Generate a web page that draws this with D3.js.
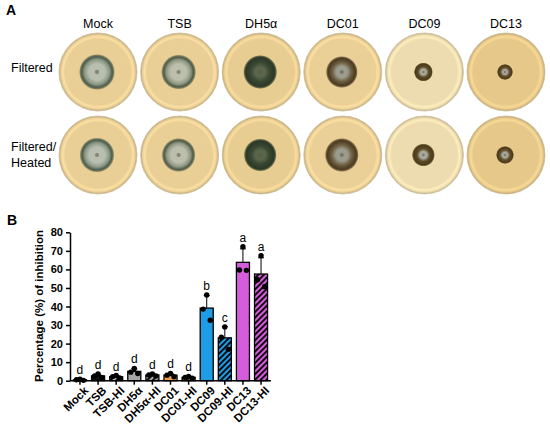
<!DOCTYPE html>
<html>
<head>
<meta charset="utf-8">
<script src="https://cdn.jsdelivr.net/npm/d3@7"></script>
<style>
  body { margin: 0; background: #fff; }
  svg { font-family: "Liberation Sans", Arial, sans-serif; }
  .axis path, .axis line { stroke: #000; stroke-width: 1.5; }
  .axis text { font-weight: bold; fill: #000; }
</style>
</head>
<body>
<svg id="fig" width="550" height="428"></svg>
<script>
// ---- panel A: plates ----
const strains = ["Mock", "TSB", "DH5α", "DC01", "DC09", "DC13"]
const treatments = ["Filtered", "Filtered/Heated"]
// colony radius (px), row 1 then row 2
const colonyFiltered = [18, 17.5, 17, 16, 9.5, 8]
const colonyHeated = [17.5, 17, 16.5, 17, 11.5, 9]

// ---- panel B: inhibition ----
const categories = ["Mock", "TSB", "TSB-HI", "DH5α", "DH5α-HI", "DC01", "DC01-HI", "DC09", "DC09-HI", "DC13", "DC13-HI"]
const rep1 = [0.8, 3.6, 2.8, 6.6, 3.6, 3.9, 2.3, 46.2, 29.0, 72.2, 67.4]
const rep2 = [0.5, 2.5, 2.1, 4.6, 3.1, 3.0, 1.8, 38.6, 23.4, 59.7, 54.4]
const rep3 = [0.2, 1.7, 1.5, 3.9, 2.6, 2.1, 1.4, 32.6, 16.9, 59.5, 50.7]
const letters = ["d", "d", "d", "d", "d", "d", "d", "b", "c", "a", "a"]
const yTicks = [0, 10, 20, 30, 40, 50, 60, 70, 80]

// styling
const barColor = {Mock: "#111", TSB: "#111", DH5α: "#a6a6a6", DC01: "#f0a050", DC09: "#1e9ce6", DC13: "#d55ddc"}
const agarColor = {Mock: "#e9cf96", TSB: "#e9cf96", DH5α: "#e8cd92", DC01: "#eacf96", DC09: "#ecdcaf", DC13: "#e6c98a"}
// colony: [centre, mid, ring], fraction of radius that stays centre-coloured
const colonyLook = {
    Mock: [["#b9bfb0", "#8a9684", "#4d5c4a"], 0.45],
    TSB: [["#bcbfac", "#8f9782", "#4f5b47"], 0.45],
    DH5α: [["#59664a", "#3a4832", "#2a3826"], 0.3],
    DC01: [["#9c9c8e", "#6e5f40", "#4a3a20"], 0.35],
    DC09: [["#a9ab9f", "#5e4c27", "#4a3a1a"], 0.3],
    DC13: [["#a8a89c", "#644f2a", "#4c391b"], 0.3]
}

const svg = d3.select("#fig")
const defs = svg.append("defs")

svg.append("text").attr("x", 6).attr("y", 15)
    .attr("font-size", 14).attr("font-weight", "bold").text("A")

const xPlate = d3.scalePoint().domain(strains).range([98, 506])
const yPlate = d3.scalePoint().domain(treatments).range([72, 155])

svg.selectAll(".colLabel")
    .data(strains)
    .join("text")
    .attr("x", d => xPlate(d))
    .attr("y", 28)
    .attr("text-anchor", "middle")
    .attr("font-size", 12.5)
    .text(d => d)

svg.append("text").attr("x", 11).attr("y", 72).attr("font-size", 12.5).text("Filtered")
const rl = svg.append("text").attr("x", 11).attr("y", 151).attr("font-size", 12.5)
rl.append("tspan").attr("x", 11).text("Filtered/")
rl.append("tspan").attr("x", 11).attr("dy", 16).text("Heated")

// gradients
strains.forEach((s, i) => {
    const base = d3.color(agarColor[s])
    const ag = defs.append("radialGradient").attr("id", `agar${i}`)
    ag.append("stop").attr("offset", "0%").attr("stop-color", base)
    ag.append("stop").attr("offset", "84%").attr("stop-color", base)
    ag.append("stop").attr("offset", "90%").attr("stop-color", base.brighter(0.22))
    ag.append("stop").attr("offset", "95%").attr("stop-color", base)
    ag.append("stop").attr("offset", "100%").attr("stop-color", base.darker(0.6))

    const cg = defs.append("radialGradient").attr("id", `col${i}`)
    const [c, inner] = colonyLook[s]
    cg.append("stop").attr("offset", "0%").attr("stop-color", c[0])
    cg.append("stop").attr("offset", `${inner * 100}%`).attr("stop-color", c[0])
    cg.append("stop").attr("offset", `${(inner + 0.25) * 100}%`).attr("stop-color", c[1])
    cg.append("stop").attr("offset", "85%").attr("stop-color", c[2])
    cg.append("stop").attr("offset", "93%").attr("stop-color", c[2]).attr("stop-opacity", 0.7)
    cg.append("stop").attr("offset", "100%").attr("stop-color", c[2]).attr("stop-opacity", 0)
})

const plates = []
strains.forEach((s, i) => {
    plates.push({strain: s, i: i, row: treatments[0], r: colonyFiltered[i]})
    plates.push({strain: s, i: i, row: treatments[1], r: colonyHeated[i]})
})

const plateG = svg.selectAll(".plate")
    .data(plates)
    .join("g")
    .attr("transform", d => `translate(${xPlate(d.strain)},${yPlate(d.row)})`)

plateG.append("circle")
    .attr("r", 39)
    .attr("fill", d => `url(#agar${d.i})`)
    .attr("stroke", "#cbbd98")
    .attr("stroke-width", 0.8)

plateG.append("circle")
    .attr("r", d => d.r)
    .attr("cx", -1)
    .attr("fill", d => `url(#col${d.i})`)

plateG.append("circle")
    .attr("r", d => Math.max(1.2, d.r * 0.12))
    .attr("cx", -1)
    .attr("fill", "#5d5544")
    .attr("opacity", 0.55)

// ---- panel B ----
svg.append("text").attr("x", 7).attr("y", 225)
    .attr("font-size", 14).attr("font-weight", "bold").text("B")

const y = d3.scaleLinear().domain([0, 80]).range([380.7, 232.3])
const x = d3.scaleBand().domain(categories).range([70, 271])
    .paddingInner(0.28).paddingOuter(0.19)

const baseOf = c => c.replace("-HI", "")

// hatch patterns for heat-inactivated bars
Object.keys(barColor).forEach(k => {
    const p = defs.append("pattern")
        .attr("id", `hatch_${k}`)
        .attr("patternUnits", "userSpaceOnUse")
        .attr("width", 4).attr("height", 4)
        .attr("patternTransform", "rotate(45)")
    p.append("rect").attr("width", 4).attr("height", 4).attr("fill", barColor[k])
    p.append("rect").attr("width", 1.8).attr("height", 4)
        .attr("fill", k === "TSB" ? "#fff" : "#000")
})

const rows = categories.map((c, i) => {
    const v = [rep1[i], rep2[i], rep3[i]]
    return {cat: c, vals: v, mean: d3.mean(v), sd: d3.deviation(v), letter: letters[i]}
})

const barG = svg.append("g")

barG.selectAll(".bar")
    .data(rows)
    .join("rect")
    .attr("x", d => x(d.cat))
    .attr("width", x.bandwidth())
    .attr("y", d => y(d.mean))
    .attr("height", d => y(0) - y(d.mean))
    .attr("fill", d => d.cat.endsWith("-HI") ? `url(#hatch_${baseOf(d.cat)})` : barColor[baseOf(d.cat)])
    .attr("stroke", "#000")
    .attr("stroke-width", 1.3)

// upper error bars
const cx = d => x(d.cat) + x.bandwidth() / 2
barG.selectAll(".err")
    .data(rows)
    .join("path")
    .attr("d", d => `M${cx(d)},${y(d.mean)}V${y(d.mean + d.sd)}M${cx(d) - 3},${y(d.mean + d.sd)}h6`)
    .attr("stroke", "#000")
    .attr("stroke-width", 1)
    .attr("fill", "none")

// replicate dots
const jitter = [0, -3.5, 3.5]
rows.forEach(d => {
    barG.selectAll(null)
        .data(d.vals)
        .join("circle")
        .attr("cx", (v, j) => cx(d) + jitter[j])
        .attr("cy", v => y(v))
        .attr("r", 2.7)
        .attr("fill", "#000")
})

// significance letters
barG.selectAll(".letter")
    .data(rows)
    .join("text")
    .attr("x", d => cx(d))
    .attr("y", d => y(Math.max(d.mean + d.sd, d3.max(d.vals))) - 5)
    .attr("text-anchor", "middle")
    .attr("font-size", 12)
    .attr("fill", "#000")
    .text(d => d.letter)

// axes
svg.append("g").attr("class", "axis")
    .attr("transform", `translate(70,0)`)
    .call(d3.axisLeft(y).tickValues(yTicks).tickSize(4).tickSizeOuter(0))
    .call(g => g.selectAll("text").attr("font-size", 11))

const xAxis = svg.append("g").attr("class", "axis")
    .attr("transform", `translate(0,${y(0)})`)
    .call(d3.axisBottom(x).tickSize(4).tickSizeOuter(0))
xAxis.select(".domain").attr("d", `M70,0H271`)
xAxis.selectAll("text")
    .attr("font-size", 11.5)
    .attr("text-anchor", "end")
    .attr("dx", "-0.1em")
    .attr("dy", "0.6em")
    .attr("transform", "rotate(-45)")

svg.append("text")
    .attr("transform", `translate(43,306) rotate(-90)`)
    .attr("text-anchor", "middle")
    .attr("font-size", 11.5)
    .attr("font-weight", "bold")
    .attr("fill", "#000")
    .text("Percentage (%) of inhibition")
</script>
</body>
</html>
